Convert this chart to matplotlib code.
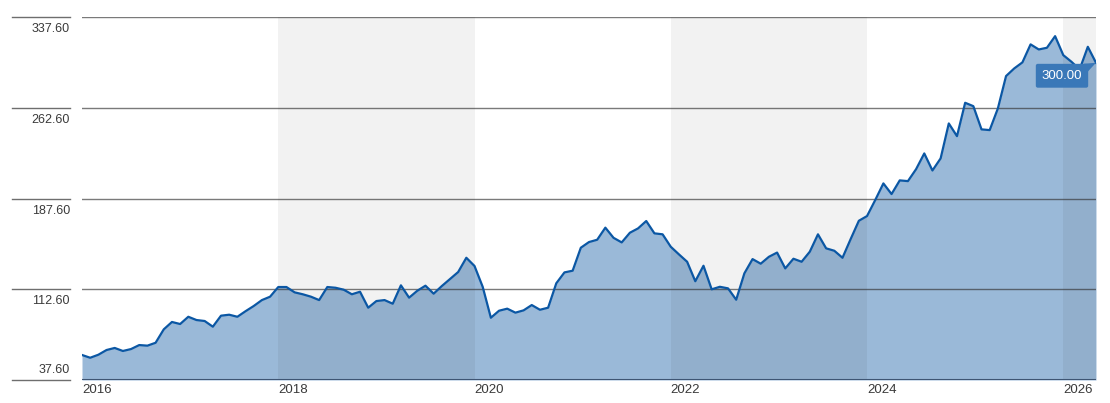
import matplotlib
matplotlib.use("Agg")
import matplotlib.pyplot as plt
import matplotlib.transforms as mtransforms
from matplotlib.patches import Polygon
import numpy as np

plt.rcParams['font.family'] = ['Liberation Sans', 'DejaVu Sans']

# monthly values, Jan 2016 onwards
prices = [
    58.3, 56.0, 58.5, 62.4, 64.1, 61.6, 63.2, 66.5, 66.0, 68.4, 79.5, 85.6,
    83.9, 89.9, 87.2, 86.4, 81.7, 90.8, 91.6, 89.9, 94.5, 98.8, 103.7, 106.5,
    114.5, 114.5, 110.1, 108.5, 106.5, 103.7, 114.5, 113.9, 112.3, 108.5, 110.6, 97.4,
    102.9, 103.7, 100.7, 115.9, 105.7, 111.4, 115.6, 109.0, 115.3, 121.1, 126.9, 138.7,
    131.9, 114.7, 89.1, 94.9, 96.6, 93.3, 95.2, 99.6, 95.7, 97.4, 117.6, 126.6,
    128.0, 147.0, 151.7, 153.6, 163.6, 155.2, 151.4, 159.4, 163.0, 169.1, 158.9, 158.1,
    147.8, 141.5, 135.4, 119.3, 132.1, 112.6, 114.7, 113.4, 104.0, 125.8, 137.6, 133.8,
    139.5, 143.0, 129.9, 137.9, 135.4, 143.7, 158.1, 146.5, 144.5, 138.7, 154.2, 169.3,
    173.2, 186.4, 200.2, 191.4, 202.7, 202.1, 212.0, 225.0, 210.9, 220.9, 249.8, 239.3,
    266.9, 264.1, 244.9, 244.3, 262.2, 289.0, 295.3, 300.3, 315.2, 311.0, 312.4, 322.0,
    306.3, 300.8, 294.5, 313.2, 300.0,
]
start_year = 2016
y_ticks = [37.6, 112.6, 187.6, 262.6, 337.6]
x_years = [2016, 2018, 2020, 2022, 2024, 2026]
shaded_spans = [(2018, 2020), (2022, 2024), (2026, None)]
last_label = "300.00"

x = start_year + np.arange(len(prices)) / 12

W, H = 1110, 403
fig = plt.figure(figsize=(W / 100, H / 100), dpi=100)
ax = fig.add_axes([82 / W, 23 / H, 1014 / W, 362.7 / H])

ax.fill_between(x, prices, y_ticks[0], color='#9ab9d8', lw=0, zorder=1)
for a, b in shaded_spans:
    ax.axvspan(a, b if b else x[-1], color='black', alpha=0.05, lw=0, zorder=2)
for t in y_ticks[1:]:
    ax.axhline(t, color='#333333', alpha=0.65, lw=1, zorder=3)
ax.plot(x, prices, color='#0b57a4', lw=1.6, zorder=4)
ax.axhline(y_ticks[0], color='#3e5573', lw=1.5, zorder=5)

ax.set_xlim(x[0], x[-1])
ax.set_ylim(y_ticks[0], y_ticks[-1])
ax.set_xticks([])
ax.set_yticks([])
for s in ax.spines.values():
    s.set_visible(False)

# y labels sit left of the plot, next to short grid stubs
blend = mtransforms.blended_transform_factory(fig.transFigure, ax.transData)
below = mtransforms.offset_copy(blend, fig=fig, y=-6, units='dots')
above = mtransforms.offset_copy(blend, fig=fig, y=4, units='dots')
for t in y_ticks:
    ax.plot([12 / W, 70 / W], [t, t], color='#6e6e6e', lw=1, transform=blend, clip_on=False)
    if t == y_ticks[0]:
        ax.text(70 / W, t, f"{t:.2f}", transform=above, ha='right', va='bottom',
                fontsize=9, color='#3a3a3a')
    else:
        ax.text(70 / W, t, f"{t:.2f}", transform=below, ha='right', va='top',
                fontsize=9, color='#3a3a3a')

yr_tr = mtransforms.offset_copy(ax.transData, fig=fig, y=-4, units='dots')
for yr in x_years:
    ax.text(yr, y_ticks[0], str(yr), transform=yr_tr, ha='left', va='top',
            fontsize=9.5, color='#3a3a3a', clip_on=False)

# last value badge
ax.annotate(last_label, xy=(x[-1], prices[-1]), xytext=(-34, -13),
            textcoords='offset pixels', ha='center', va='center', color='white',
            fontsize=9.5, zorder=7,
            bbox=dict(boxstyle='round,pad=0.45,rounding_size=0.15', fc='#3a78b8', ec='none'))
pt = mtransforms.ScaledTranslation(x[-1], prices[-1], ax.transData)
tri = Polygon([(0, 0), (-0.12, -0.01), (-0.12, -0.13)], closed=True,
              transform=fig.dpi_scale_trans + pt, fc='#3a78b8', ec='none', zorder=6)
ax.add_patch(tri)

fig.savefig('out.png', dpi=100)
